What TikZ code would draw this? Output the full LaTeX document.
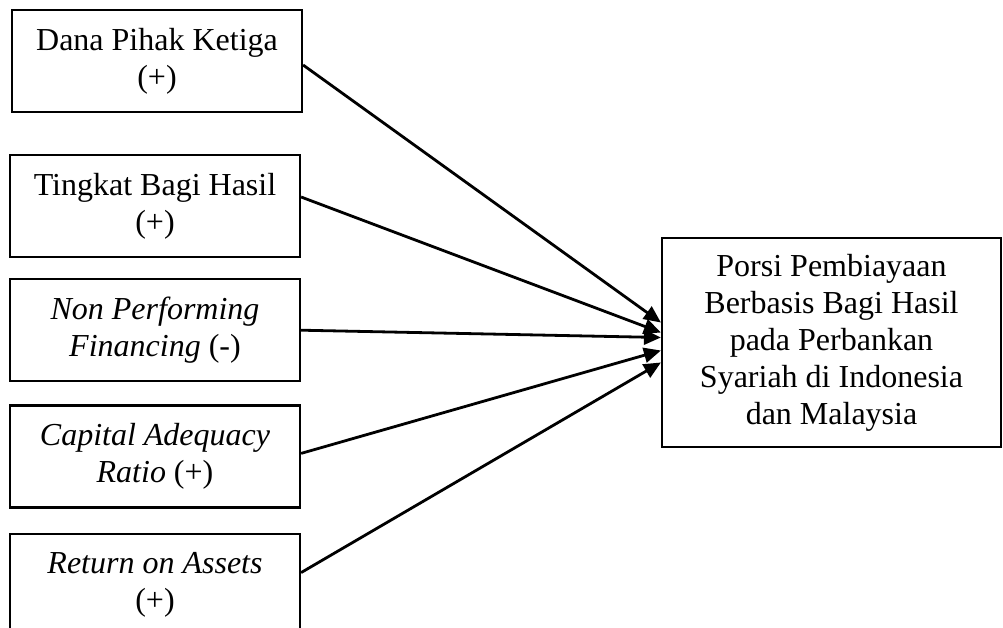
\documentclass[tikz,border=0pt]{standalone}
\usepackage{fontspec}
\setmainfont{Liberation Serif}
\usetikzlibrary{arrows.meta,positioning}
\tikzstyle{var} = [draw, line width=2.2pt, minimum width=290pt, minimum height=102pt,
    align=center, inner sep=0pt, font=\fontsize{32}{37}\selectfont]
\tikzstyle{line} = [draw, line width=2.8pt, -{Triangle[length=17pt,width=15pt]}]

\begin{document}
\begin{tikzpicture}[
            x = 1pt, y = -1pt,
            node distance = 22pt % gap between the left boxes
        ]
        \useasboundingbox (0,0) rectangle (1003,628);

        \node[var] (dpk) at (157,61) {Dana Pihak Ketiga\\(+)};
        \node[var] (tbh) at (155,206) {Tingkat Bagi Hasil\\(+)};
        \node[var] (npf) [below=20pt of tbh] {\textit{Non Performing}\\\textit{Financing} (-)};
        \node[var] (car) [below=of npf] {\textit{Capital Adequacy}\\\textit{Ratio} (+)};
        \node[var] (roa) [below=24pt of car] {\textit{Return on Assets}\\(+)};
        \node[var, minimum width=339pt, minimum height=209pt] (porsi) at (831.5,342.5)
            {Porsi Pembiayaan\\Berbasis Bagi Hasil\\pada Perbankan\\Syariah di Indonesia\\dan Malaysia};

        \path[line] ([yshift=-4pt]dpk.east) -- ([yshift=20pt]porsi.west);
        \path[line] ([yshift=9pt]tbh.east) -- ([yshift=10pt]porsi.west);
        \path[line] (npf.east) -- ([yshift=5pt]porsi.west);
        \path[line] ([yshift=3pt]car.east) -- ([yshift=-8pt]porsi.west);
        \path[line] ([yshift=12pt]roa.east) -- ([yshift=-20pt]porsi.west);

    \end{tikzpicture}
\end{document}
